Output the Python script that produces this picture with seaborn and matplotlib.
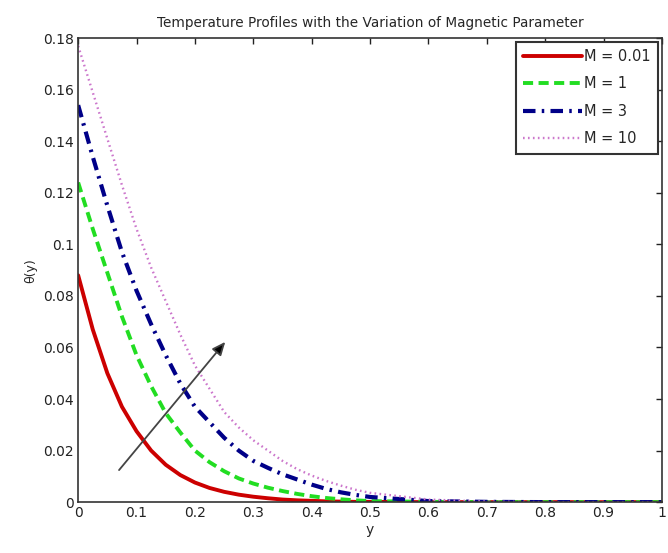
import matplotlib
matplotlib.use("Agg")
import matplotlib.pyplot as plt
import seaborn as sns
import pandas as pd

# ---- data ----
y_coarse = [0, 0.025, 0.05, 0.075, 0.1, 0.125, 0.15, 0.175, 0.2, 0.225, 0.25,
            0.275, 0.3, 0.325, 0.35, 0.375, 0.4, 0.425, 0.45, 0.475, 0.5,
            0.6, 0.7, 0.8, 0.9, 1.0]

theta_M001 = [0.088, 0.067, 0.050, 0.037, 0.0275, 0.020, 0.0145, 0.0105, 0.0076,
              0.0055, 0.0040, 0.0029, 0.0021, 0.0015, 0.0010, 0.0007, 0.0005,
              0.0003, 0.0002, 0.0001, 0.0001, 0.0, 0.0, 0.0, 0.0, 0.0]
theta_M1 = [0.124, 0.106, 0.089, 0.072, 0.057, 0.045, 0.0345, 0.027, 0.020,
            0.0155, 0.0120, 0.0092, 0.0072, 0.0056, 0.0043, 0.0032, 0.0023,
            0.0016, 0.0011, 0.0007, 0.0004, 0.0001, 0.0, 0.0, 0.0, 0.0]
theta_M3 = [0.154, 0.134, 0.115, 0.097, 0.082, 0.069, 0.057, 0.046, 0.037,
            0.031, 0.025, 0.020, 0.016, 0.0133, 0.0108, 0.0088, 0.0068,
            0.0051, 0.0038, 0.0028, 0.0020, 0.0004, 0.0001, 0.0, 0.0, 0.0]
theta_M10 = [0.177, 0.159, 0.141, 0.123, 0.106, 0.091, 0.078, 0.065, 0.053,
             0.044, 0.035, 0.029, 0.024, 0.020, 0.016, 0.0128, 0.0103,
             0.0082, 0.0064, 0.0048, 0.0036, 0.0010, 0.0002, 0.0, 0.0, 0.0]

labels = ["M = 0.01", "M = 1", "M = 3", "M = 10"]
series = [theta_M001, theta_M1, theta_M3, theta_M10]
colors = ["#cc0000", "#22dd22", "#000088", "#cc77cc"]
styles = ["-", (0, (2.6, 1.4)), (0, (3.0, 1.5, 0.6, 1.5)), (0, (0.7, 1.4))]
widths = [2.8, 2.8, 3.0, 1.7]

x_ticks = [0, 0.1, 0.2, 0.3, 0.4, 0.5, 0.6, 0.7, 0.8, 0.9, 1]
x_ticklabels = ["0", "0.1", "0.2", "0.3", "0.4", "0.5", "0.6", "0.7", "0.8", "0.9", "1"]
y_ticks = [0, 0.02, 0.04, 0.06, 0.08, 0.1, 0.12, 0.14, 0.16, 0.18]
y_ticklabels = ["0", "0.02", "0.04", "0.06", "0.08", "0.1", "0.12", "0.14", "0.16", "0.18"]

sns.set_style("white")
plt.rcParams["font.family"] = ["DejaVu Sans"]

fig = plt.figure(figsize=(6.68, 5.53), dpi=100)
ax = fig.add_axes([0.117, 0.092, 0.874, 0.839])

for lab, vals, c, ls, lw in zip(labels, series, colors, styles, widths):
    df = pd.DataFrame({"y": y_coarse, "theta": vals})
    sns.lineplot(data=df, x="y", y="theta", ax=ax, color=c, linestyle=ls,
                 linewidth=lw, label=lab)

ax.annotate("", xy=(0.255, 0.063), xytext=(0.067, 0.0116),
            arrowprops=dict(arrowstyle="-|>,head_length=0.8,head_width=0.35",
                            color="#555555", lw=1.3, fc="black", ec="#444444"))

ax.set_xlim(0, 1)
ax.set_ylim(0, 0.18)
ax.set_xticks(x_ticks)
ax.set_xticklabels(x_ticklabels)
ax.set_yticks(y_ticks)
ax.set_yticklabels(y_ticklabels)
ax.tick_params(direction="in", length=4, width=1, top=True, right=True,
               labelsize=10, colors="#222222", pad=3)
for s in ax.spines.values():
    s.set_color("#333333")
    s.set_linewidth(1.2)

ax.set_xlabel("y", fontsize=10, labelpad=2)
ax.set_ylabel("θ(y)", fontsize=9, labelpad=4)
ax.set_title("Temperature Profiles with the Variation of Magnetic Parameter",
             fontsize=9.8, pad=8)

leg = ax.legend(loc="upper right", fontsize=10.5, handlelength=4.0,
                handletextpad=0.2, borderpad=0.5, labelspacing=0.85,
                fancybox=False, framealpha=1, borderaxespad=0.25)
leg.get_frame().set_edgecolor("#333333")
leg.get_frame().set_linewidth(1.5)

fig.savefig("out.png", dpi=100)
